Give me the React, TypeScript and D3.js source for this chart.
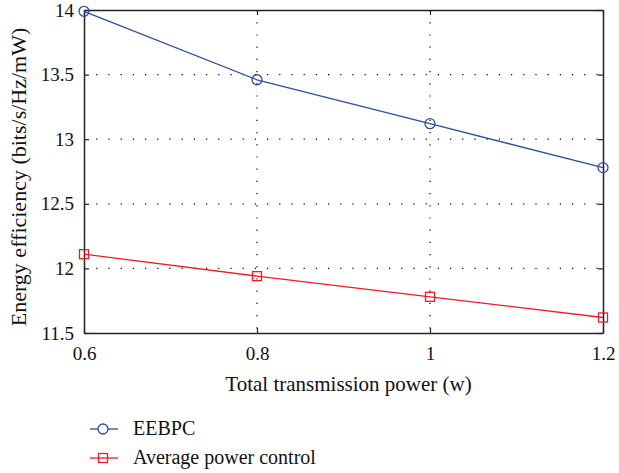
import * as d3 from 'd3'
import { useRef, useEffect } from 'react'

const powers = [0.6, 0.8, 1.0, 1.2]
const eebpc = [13.99, 13.46, 13.12, 12.78]
const avgPower = [12.11, 11.94, 11.78, 11.62]
const xTicks = [0.6, 0.8, 1, 1.2]
const yTicks = [11.5, 12, 12.5, 13, 13.5, 14]
const seriesNames = ['EEBPC', 'Average power control']

const FONT = "'Liberation Serif', 'Times New Roman', serif"

const App = () => {
  const ref = useRef<SVGSVGElement>(null)

  useEffect(() => {
    const svg = d3.select(ref.current)
    svg.selectAll('*').remove()

    const left = 84
    const right = 603
    const top = 10
    const bottom = 333

    const x = d3.scaleLinear().domain([0.6, 1.2]).range([left, right])
    const y = d3.scaleLinear().domain([11.5, 14]).range([bottom, top])

    // dotted grid
    const grid = svg.append('g')
    grid
      .selectAll('line.gx')
      .data(xTicks.slice(1, -1))
      .enter()
      .append('line')
      .attr('x1', (d) => x(d))
      .attr('x2', (d) => x(d))
      .attr('y1', top)
      .attr('y2', bottom)
      .attr('stroke', '#000')
      .attr('stroke-width', 1.2)
      .attr('stroke-dasharray', '1.2,11')
    grid
      .selectAll('line.gy')
      .data(yTicks.slice(1, -1))
      .enter()
      .append('line')
      .attr('x1', left)
      .attr('x2', right)
      .attr('y1', (d) => y(d))
      .attr('y2', (d) => y(d))
      .attr('stroke', '#000')
      .attr('stroke-width', 1.2)
      .attr('stroke-dasharray', '1.2,11')

    // axes, ticks pointing inward
    const axB = svg
      .append('g')
      .attr('transform', `translate(0,${bottom})`)
      .call(d3.axisBottom(x).tickValues(xTicks).tickSizeInner(-5).tickSizeOuter(0).tickPadding(14).tickFormat(d3.format('')))
    const axT = svg
      .append('g')
      .attr('transform', `translate(0,${top})`)
      .call(d3.axisTop(x).tickValues(xTicks).tickSizeInner(-5).tickSizeOuter(0).tickFormat(() => ''))
    const axL = svg
      .append('g')
      .attr('transform', `translate(${left},0)`)
      .call(d3.axisLeft(y).tickValues(yTicks).tickSizeInner(-5).tickSizeOuter(0).tickPadding(10).tickFormat(d3.format('')))
    const axR = svg
      .append('g')
      .attr('transform', `translate(${right},0)`)
      .call(d3.axisRight(y).tickValues(yTicks).tickSizeInner(-5).tickSizeOuter(0).tickFormat(() => ''))
    ;[axB, axT, axL, axR].forEach((a) => {
      a.attr('font-family', null).attr('font-size', null)
      a.select('.domain').attr('stroke', '#222').attr('stroke-width', 1.5)
      a.selectAll('.tick line').attr('stroke', '#222').attr('stroke-width', 1.2)
      a.selectAll('.tick text').style('font-family', FONT).style('font-size', '19px').attr('fill', '#111')
    })

    const line = d3
      .line<number>()
      .x((_, i) => x(powers[i]))
      .y((d) => y(d))

    const colors = ['#2a4ea6', '#ee1c24']
    const data = [eebpc, avgPower]

    data.forEach((vals, s) => {
      svg
        .append('path')
        .datum(vals)
        .attr('d', line)
        .attr('fill', 'none')
        .attr('stroke', colors[s])
        .attr('stroke-width', 1.3)
      const g = svg.append('g')
      if (s === 0) {
        g.selectAll('circle')
          .data(vals)
          .enter()
          .append('circle')
          .attr('cx', (_, i) => x(powers[i]))
          .attr('cy', (d) => y(d))
          .attr('r', 5)
          .attr('fill', 'none')
          .attr('stroke', colors[s])
          .attr('stroke-width', 1.3)
      } else {
        g.selectAll('rect')
          .data(vals)
          .enter()
          .append('rect')
          .attr('x', (_, i) => x(powers[i]) - 4.5)
          .attr('y', (d) => y(d) - 4.5)
          .attr('width', 9)
          .attr('height', 9)
          .attr('fill', 'none')
          .attr('stroke', colors[s])
          .attr('stroke-width', 1.3)
      }
    })

    // axis titles
    svg
      .append('text')
      .attr('x', (left + right) / 2 + 5)
      .attr('y', 391)
      .attr('text-anchor', 'middle')
      .style('font-family', FONT)
      .style('font-size', '21px')
      .attr('fill', '#111')
      .text('Total transmission power (w)')
    svg
      .append('text')
      .attr('transform', `translate(26,177) rotate(-90)`)
      .attr('text-anchor', 'middle')
      .style('font-family', FONT)
      .style('font-size', '22px')
      .attr('fill', '#111')
      .text('Energy efficiency (bits/s/Hz/mW)')

    // legend
    const legendY = [429, 458]
    seriesNames.forEach((name, s) => {
      const ly = legendY[s]
      svg
        .append('line')
        .attr('x1', 90)
        .attr('x2', 118)
        .attr('y1', ly)
        .attr('y2', ly)
        .attr('stroke', colors[s])
        .attr('stroke-width', 1.3)
      if (s === 0) {
        svg
          .append('circle')
          .attr('cx', 103)
          .attr('cy', ly)
          .attr('r', 5)
          .attr('fill', '#fff')
          .attr('stroke', colors[s])
          .attr('stroke-width', 1.3)
      } else {
        svg
          .append('rect')
          .attr('x', 98.5)
          .attr('y', ly - 4.5)
          .attr('width', 9)
          .attr('height', 9)
          .attr('fill', 'none')
          .attr('stroke', colors[s])
          .attr('stroke-width', 1.3)
      }
      svg
        .append('text')
        .attr('x', 133)
        .attr('y', ly + 6)
        .style('font-family', FONT)
        .style('font-size', '20px')
        .attr('fill', '#111')
        .text(name)
    })
  }, [])

  return (
    <div style={{ position: 'absolute', left: 0, top: 0 }}>
      <svg ref={ref} width={619} height={473} style={{ display: 'block' }}></svg>
    </div>
  )
}

export default App
